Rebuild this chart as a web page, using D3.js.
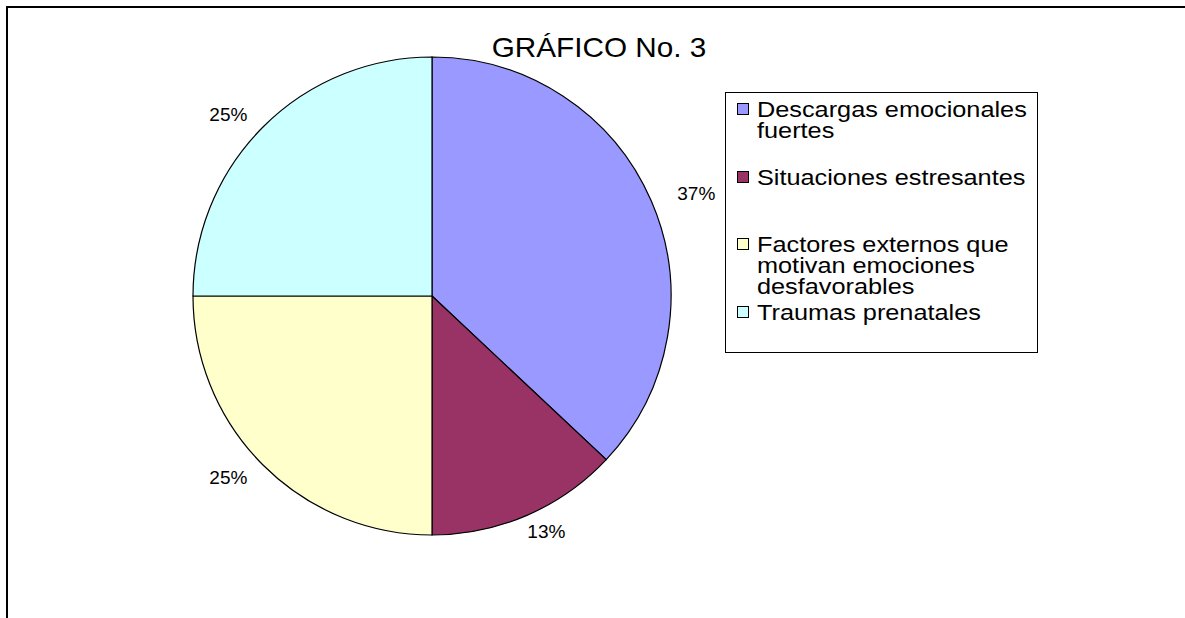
<!DOCTYPE html>
<html>
<head>
<meta charset="utf-8">
<script src="https://cdn.jsdelivr.net/npm/d3@7"></script>
<style>
  html, body { margin: 0; padding: 0; background: #fff; }
  svg text { font-family: "Liberation Sans", Arial, sans-serif; fill: #000; }
</style>
</head>
<body>
<svg id="chart" width="1185" height="618"></svg>
<script>
// data
const categories = [
    'Descargas emocionales fuertes',
    'Situaciones estresantes',
    'Factores externos que motivan emociones desfavorables',
    'Traumas prenatales'
];
const values = [37, 13, 25, 25];
const colors = ['#9999FF', '#993366', '#FFFFCC', '#CCFFFF'];
// legend text as it wraps in the picture
const legendLines = [
    ['Descargas emocionales', 'fuertes'],
    ['Situaciones estresantes'],
    ['Factores externos que', 'motivan emociones', 'desfavorables'],
    ['Traumas prenatales']
];
const legendRowY = [117, 185, 252, 320];
const title = 'GRÁFICO No. 3';

const svg = d3.select('#chart');
const width = 1185, height = 618;

// outer frame (only top and left edges show)
svg.append('path')
    .attr('d', `M7,${height} L7,7 L${width},7`)
    .attr('fill', 'none')
    .attr('stroke', '#000')
    .attr('stroke-width', 2);

// text in the picture is a bit wider than Arial, so stretch it
svg.append('text')
    .attr('transform', 'translate(599,57) scale(1.1,1)')
    .attr('text-anchor', 'middle')
    .style('font-size', '27px')
    .text(title);

const cx = 432, cy = 296, radius = 239;
const pie = d3.pie().sort(null).value(d => d);
const arcs = pie(values);
const arc = d3.arc().innerRadius(0).outerRadius(radius);

const g = svg.append('g').attr('transform', `translate(${cx},${cy})`);

g.selectAll('path.slice')
    .data(arcs)
    .enter()
    .append('path')
    .classed('slice', true)
    .attr('d', arc)
    .attr('fill', (d, i) => colors[i])
    .attr('stroke', '#000')
    .attr('stroke-width', 1.2);

// percent labels outside the pie
const total = d3.sum(values);
const fmt = d3.format('.0%');
const midAngle = d => (d.startAngle + d.endAngle) / 2;
g.selectAll('text.pct')
    .data(arcs)
    .enter()
    .append('text')
    .classed('pct', true)
    .attr('x', d => Math.sin(midAngle(d)) * 288)
    .attr('y', d => -Math.cos(midAngle(d)) * 257)
    .attr('text-anchor', 'middle')
    .attr('dominant-baseline', 'central')
    .style('font-size', '19px')
    .text(d => fmt(d.value / total));

// legend
const legend = svg.append('g');
legend.append('rect')
    .attr('x', 725.5)
    .attr('y', 92.5)
    .attr('width', 312)
    .attr('height', 260)
    .attr('fill', '#fff')
    .attr('stroke', '#000')
    .attr('stroke-width', 1);

const items = legend.selectAll('g.item')
    .data(categories)
    .enter()
    .append('g')
    .classed('item', true);

items.append('rect')
    .attr('x', 737.5)
    .attr('y', (d, i) => legendRowY[i] - 13.5)
    .attr('width', 11)
    .attr('height', 11)
    .attr('fill', (d, i) => colors[i])
    .attr('stroke', '#000')
    .attr('stroke-width', 1);

items.append('text')
    .attr('transform', (d, i) => `translate(757,${legendRowY[i]}) scale(1.15,1)`)
    .style('font-size', '22px')
    .selectAll('tspan')
    .data((d, i) => legendLines[i])
    .enter()
    .append('tspan')
    .attr('x', 0)
    .attr('dy', (d, j) => j === 0 ? 0 : 21)
    .text(d => d);
</script>
</body>
</html>
